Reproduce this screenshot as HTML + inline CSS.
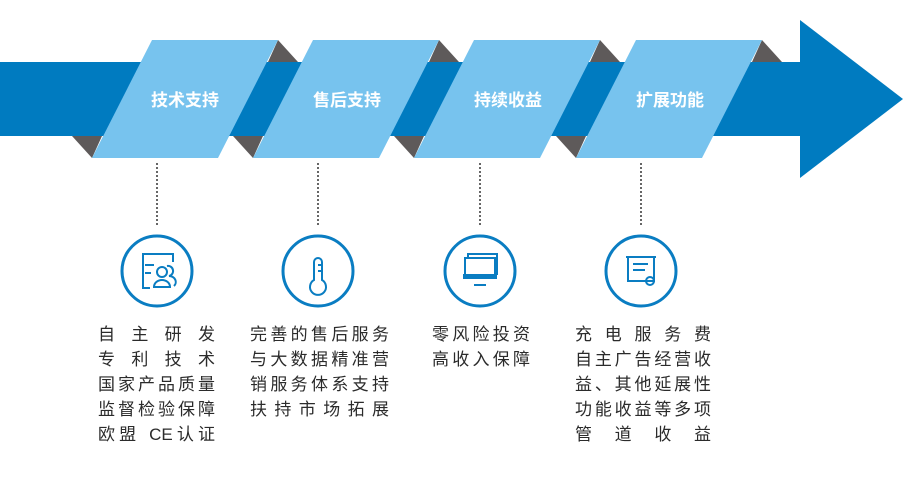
<!DOCTYPE html>
<html><head><meta charset="utf-8"><style>
body{margin:0;width:913px;height:485px;background:#fff;overflow:hidden;position:relative;font-family:"Liberation Sans","Noto Sans CJK SC",sans-serif}
.t{position:absolute;font-size:17px;line-height:25px;color:#2b2b2b;text-align:justify;text-align-last:justify}
</style></head><body>
<svg width="913" height="485" style="position:absolute;left:0;top:0">
<rect x="0" y="62" width="802" height="74" fill="#007bc0"/>
<polygon points="800,20 903,99 800,178" fill="#007bc0"/>
<g id="p">
<polygon points="278,40 298,62 268,62" fill="#5e5a5a"/>
<polygon points="72,136 102,136 92,158" fill="#5e5a5a"/>
<polygon points="152,40 278,40 218,158 92,158" fill="#77c3ee"/>
</g>
<use href="#p" x="161"/><use href="#p" x="322"/><use href="#p" x="484"/>
<g fill="#fff" font-size="17" font-weight="bold" text-anchor="middle" font-family="Liberation Sans,Noto Sans CJK SC,sans-serif">
<text x="185" y="106">技术支持</text><text x="347" y="106">售后支持</text><text x="508" y="106">持续收益</text><text x="670" y="106">扩展功能</text>
</g>
<g stroke="#333" stroke-width="1.5" stroke-dasharray="2,2">
<line x1="157" y1="163" x2="157" y2="226"/><line x1="318" y1="163" x2="318" y2="226"/><line x1="480" y1="163" x2="480" y2="226"/><line x1="641" y1="163" x2="641" y2="226"/>
</g>
<g fill="none" stroke="#0a7dc2" stroke-width="3">
<circle cx="157" cy="271" r="35"/><circle cx="318" cy="271" r="35"/><circle cx="480" cy="271" r="35"/><circle cx="641" cy="271" r="35"/>
</g>
<g fill="none" stroke="#0a7dc2" stroke-width="2">
<path d="M150,288 h-7 v-34 h30 v8"/><line x1="145" y1="265" x2="154" y2="265"/><line x1="145" y1="273" x2="151" y2="273"/>
<circle cx="162" cy="272" r="5"/><path d="M154,287 a8,7 0 0 1 16,0 z"/><path d="M167,266 a5,5 0 0 1 2,10 a7,6 0 0 1 5,10"/>
<path d="M314,262 v18 a8,8 0 1 0 8,0 v-18 a4,4 0 0 0 -8,0 z"/><line x1="318" y1="265" x2="322" y2="265"/><line x1="318" y1="271" x2="322" y2="271"/>
<rect x="465" y="258" width="30" height="20"/><path d="M468,258 v-4 h29 v20 h-3"/>
<line x1="474" y1="285" x2="486" y2="285"/>
<rect x="628" y="257" width="26" height="24"/><line x1="626" y1="257" x2="656" y2="257"/>
<line x1="633" y1="264" x2="648" y2="264"/><line x1="633" y1="270" x2="645" y2="270"/><circle cx="650" cy="281" r="4"/>
</g>
<rect x="463" y="274" width="34" height="5" fill="#0a7dc2"/>
</svg>
<div class="t" style="left:98px;top:322px;width:117px">自主研发<br>专利技术<br>国家产品质量<br>监督检验保障<br>欧盟 CE认证</div>
<div class="t" style="left:250px;top:322px;width:139px">完善的售后服务<br>与大数据精准营<br>销服务体系支持<br>扶持市场拓展</div>
<div class="t" style="left:432px;top:322px;width:98px">零风险投资<br>高收入保障</div>
<div class="t" style="left:575px;top:322px;width:136px">充电服务费<br>自主广告经营收<br>益、其他延展性<br>功能收益等多项<br>管道收益</div>
</body></html>
